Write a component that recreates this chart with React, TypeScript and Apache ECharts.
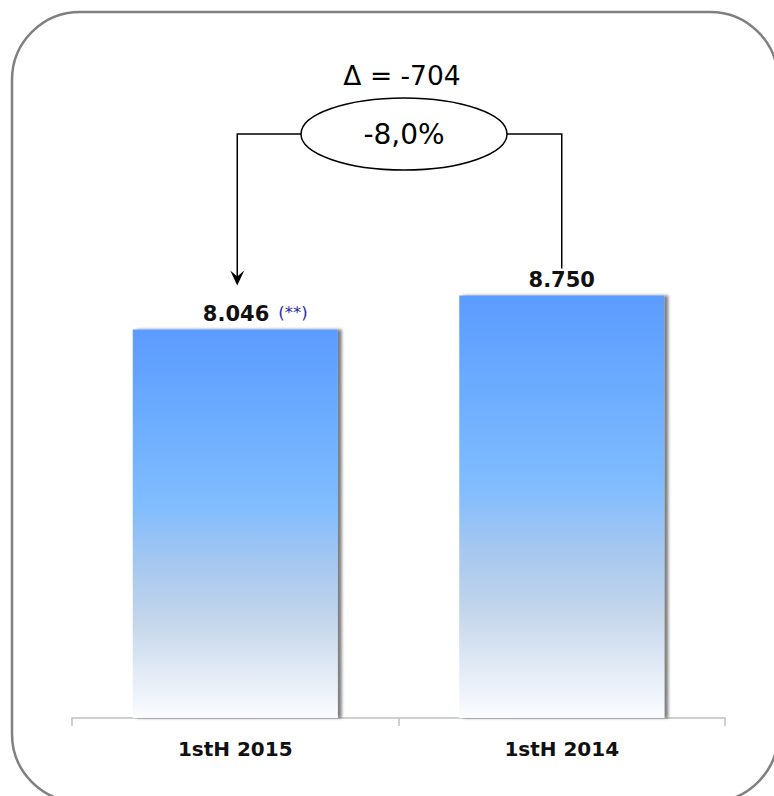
import React, { useEffect, useRef } from "react";
import * as echarts from "echarts";

const categories = ["1stH 2015", "1stH 2014"];
const values = [8046, 8750];
const notes = ["(**)", ""];

const FONT = "DejaVu Sans, Verdana, sans-serif";

const fmtThousands = (v: number) =>
  String(Math.abs(v)).replace(/\B(?=(\d{3})+(?!\d))/g, ".");

export default function App() {
  const ref = useRef<HTMLDivElement>(null);
  useEffect(() => {
    if (!ref.current) return;
    const chart = echarts.init(ref.current, null, { renderer: "svg" });
    const barColor = new echarts.graphic.LinearGradient(0, 0, 0, 1, [
      { offset: 0, color: "#5c9bff" },
      { offset: 0.25, color: "#6eaeff" },
      { offset: 0.45, color: "#80bcff" },
      { offset: 0.6, color: "#a5c7f0" },
      { offset: 0.75, color: "#c4d6eb" },
      { offset: 0.9, color: "#e6edf7" },
      { offset: 1, color: "#fbfcff" },
    ]);
    const seriesData = values.map((v, i) => ({
      value: v,
      label: notes[i]
        ? {
            formatter: () => `{v|${fmtThousands(v)}}{n|${notes[i]}}`,
            offset: [20, 0],
          }
        : { formatter: () => `{v|${fmtThousands(v)}}` },
    }));
    chart.setOption({
      animation: false,
      backgroundColor: "#ffffff",
      grid: { left: 72, right: 49, top: 235, bottom: 78 },
      xAxis: {
        type: "category",
        data: categories,
        boundaryGap: true,
        axisLine: { lineStyle: { color: "#c0c0c0", width: 1.5 } },
        axisTick: { show: true, length: 8, lineStyle: { color: "#c0c0c0", width: 1.5 } },
        axisLabel: {
          color: "#111",
          fontSize: 20,
          fontWeight: "bold",
          fontFamily: FONT,
          margin: 21,
        },
      },
      yAxis: { type: "value", min: 0, max: 10000, show: false, splitLine: { show: false } },
      series: [
        {
          type: "bar",
          data: seriesData,
          barWidth: 205,
          itemStyle: {
            color: barColor,
            shadowColor: "rgba(0,0,0,0.5)",
            shadowOffsetX: 4,
            shadowOffsetY: 0,
            shadowBlur: 3,
          },
          label: {
            show: true,
            position: "top",
            distance: 5,
            rich: {
              v: { fontFamily: FONT, fontSize: 21, fontWeight: "bold", color: "#111" },
              n: {
                fontFamily: FONT,
                fontSize: 16.5,
                color: "#2a2a9c",
                padding: [0, 0, 2, 9],
              },
            },
          },
        },
      ],
    });

    const p1 = chart.convertToPixel({ seriesIndex: 0 }, [0, values[0]]) as number[];
    const p2 = chart.convertToPixel({ seriesIndex: 0 }, [1, values[1]]) as number[];
    const delta = values[0] - values[1];
    const pct = ((delta / values[1]) * 100).toFixed(1).replace(".", ",");
    const cx = 404;
    const cy = 134;
    const rx = 103;
    const ry = 36;
    const x1 = p1[0] + 2;
    const x2 = p2[0];
    const tipY = p1[1] - 44;
    const rightEnd = p2[1] - 27;

    chart.setOption({
      graphic: [
        {
          type: "rect",
          shape: { x: 12, y: 12, width: 766, height: 790, r: 68 },
          style: { fill: "none", stroke: "#808080", lineWidth: 2.5 },
          silent: true,
        },
        {
          type: "polyline",
          shape: { points: [[cx - rx, cy], [x1, cy], [x1, tipY - 6]] },
          style: { fill: "none", stroke: "#000", lineWidth: 1.5 },
        },
        {
          type: "polygon",
          shape: {
            points: [
              [x1 - 7, tipY - 15],
              [x1, tipY - 9],
              [x1 + 7, tipY - 15],
              [x1, tipY],
            ],
          },
          style: { fill: "#000" },
        },
        {
          type: "polyline",
          shape: { points: [[cx + rx, cy], [x2, cy], [x2, rightEnd]] },
          style: { fill: "none", stroke: "#000", lineWidth: 1.5 },
        },
        {
          type: "ellipse",
          shape: { cx, cy, rx, ry },
          style: { fill: "#fff", stroke: "#000", lineWidth: 1.5 },
        },
        {
          type: "text",
          x: cx,
          y: cy,
          style: {
            text: `${pct}%`,
            fontFamily: FONT,
            fontSize: 28,
            fill: "#000",
            align: "center",
            verticalAlign: "middle",
          },
        },
        {
          type: "text",
          x: 402,
          y: 75,
          style: {
            text: `\u0394 = ${delta}`,
            fontFamily: FONT,
            fontSize: 26.5,
            fill: "#000",
            align: "center",
            verticalAlign: "middle",
          },
        },
      ],
    });

    return () => chart.dispose();
  }, []);
  return (
    <div
      ref={ref}
      style={{ position: "fixed", left: 0, top: 0, width: 774, height: 796 }}
    />
  );
}
